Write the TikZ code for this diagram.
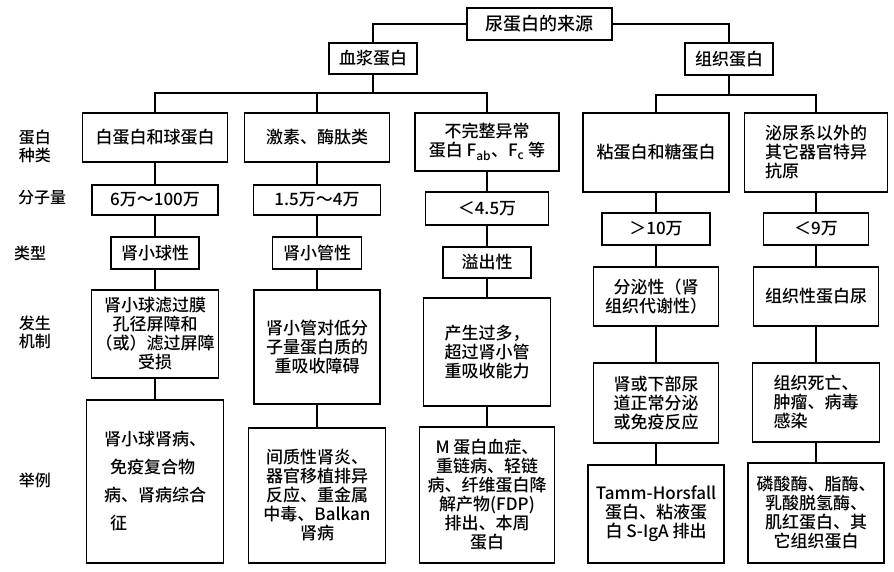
\documentclass[tikz,border=0pt]{standalone}
\usepackage{fontspec}
\setmainfont{Noto Sans CJK SC}[UprightFont=* Medium, BoldFont=* Bold]
\begin{document}
\begin{tikzpicture}[x=1pt,y=-1pt,
  box/.style={draw, line width=1.2pt, align=center, inner sep=2pt, font=\fontsize{17}{19}\selectfont},
  boxl/.style={box, align=left},
  ln/.style={line width=1.2pt},
  lab/.style={align=center, font=\fontsize{16}{18}\selectfont}]
\useasboundingbox (0,0) rectangle (894,572);
% top level
\node[box, minimum width=145pt, minimum height=32pt, font=\fontsize{18}{20}\selectfont] (title) at (539.5,24) {尿蛋白的来源};
\node[box, minimum width=88pt, minimum height=31pt] (plasma) at (373,58.5) {血浆蛋白};
\node[box, minimum width=88pt, minimum height=32pt] (tissue) at (729,59) {组织蛋白};
% row labels
\node[lab] (lab1) at (35,146) {蛋白\\种类};
\node[lab] (lab2) at (42,198) {分子量};
\node[lab] (lab3) at (30,253) {类型};
\node[lab] (lab4) at (35,332) {发生\\机制};
\node[lab] (lab5) at (35,480) {举例};
% row 1
\node[box, minimum width=145pt, minimum height=49pt] (a1) at (155,137.5) {白蛋白和球蛋白};
\node[box, minimum width=145pt, minimum height=49pt] (b1) at (317,137.5) {激素、酶肽类};
\node[box, minimum width=144pt, minimum height=58pt] (c1) at (487,142) {不完整异常\\蛋白 F\textsubscript{ab}、F\textsubscript{c} 等};
\node[box, minimum width=146pt, minimum height=79pt] (d1) at (656,152.5) {粘蛋白和糖蛋白};
\node[boxl, minimum width=143pt, minimum height=79pt] (e1) at (816,152.5) {泌尿系以外的\\其它器官特异\\抗原};
% row 2
\node[box, minimum width=126pt, minimum height=30pt] (a2) at (155,200) {6万～100万};
\node[box, minimum width=127pt, minimum height=30pt] (b2) at (317,200) {1.5万～4万};
\node[box, minimum width=123pt, minimum height=33pt] (c2) at (487,208.5) {＜4.5万};
\node[box, minimum width=108pt, minimum height=32pt] (d2) at (656,229) {＞10万};
\node[box, minimum width=105pt, minimum height=32pt] (e2) at (816,229) {＜9万};
% row 3
\node[box, minimum width=88pt, minimum height=32pt] (a3) at (155,253) {肾小球性};
\node[box, minimum width=89pt, minimum height=32pt] (b3) at (317,253) {肾小管性};
\node[box, minimum width=88pt, minimum height=31pt] (c3) at (487,262.5) {溢出性};
\node[box, minimum width=125pt, minimum height=59pt] (d3) at (656,296.5) {分泌性（肾\\组织代谢性）};
\node[box, minimum width=125pt, minimum height=59pt] (e3) at (816,296.5) {组织性蛋白尿};
% row 4
\node[box, minimum width=127pt, minimum height=88pt] (a4) at (155,334) {肾小球滤过膜\\孔径屏障和\\（或）滤过屏障\\受损};
\node[box, minimum width=126pt, minimum height=114pt] (b4) at (317,347) {肾小管对低分\\子量蛋白质的\\重吸收障碍};
\node[box, minimum width=127pt, minimum height=108pt] (c4) at (487,352) {产生过多，\\超过肾小管\\重吸收能力};
\node[box, minimum width=125pt, minimum height=80pt] (d4) at (656,403) {肾或下部尿\\道正常分泌\\或免疫反应};
\node[boxl, minimum width=127pt, minimum height=79pt] (e4) at (816,402.5) {组织死亡、\\肿瘤、病毒\\感染};
% row 5
\node[boxl, minimum width=137pt, minimum height=163pt, font=\fontsize{17}{28}\selectfont] (a5) at (155,481.5) {肾小球肾病、\\\hspace*{6pt}免疫复合物\\病、肾病综合\\\hspace*{6pt}征};
\node[box, minimum width=137pt, minimum height=135pt] (b5) at (317,495.5) {间质性肾炎、\\器官移植排异\\反应、重金属\\中毒、Balkan\\肾病};
\node[box, minimum width=135pt, minimum height=136pt] (c5) at (487,495) {M 蛋白血症、\\重链病、轻链\\病、纤维蛋白降\\解产物(FDP)\\排出、本周\\蛋白};
\node[box, minimum width=136pt, minimum height=98pt] (d5) at (656,514) {Tamm-Horsfall\\蛋白、粘液蛋\\白 S-IgA 排出};
\node[box, minimum width=136pt, minimum height=100pt] (e5) at (816,513) {磷酸酶、脂酶、\\乳酸脱氢酶、\\肌红蛋白、其\\它组织蛋白};
% connectors
\coordinate (pj) at (373,93);
\coordinate (tj) at (729,95);
\draw[ln] (title.west) -| (plasma.north);
\draw[ln] (title.east) -| (tissue.north);
\draw[ln] (plasma.south) -- (pj);
\draw[ln] (a1.north) |- (pj);
\draw[ln] (c1.north) |- (pj);
\draw[ln] (b1.north) -- (b1.north |- pj);
\draw[ln] (tissue.south) -- (tj);
\draw[ln] (d1.north) |- (tj);
\draw[ln] (e1.north) |- (tj);
\foreach \c in {a,b,c,d,e}{
  \draw[ln] (\c1.south) -- (\c2.north);
  \draw[ln] (\c2.south) -- (\c3.north);
  \draw[ln] (\c3.south) -- (\c4.north);
  \draw[ln] (\c4.south) -- (\c5.north);
}
\end{tikzpicture}
\end{document}
